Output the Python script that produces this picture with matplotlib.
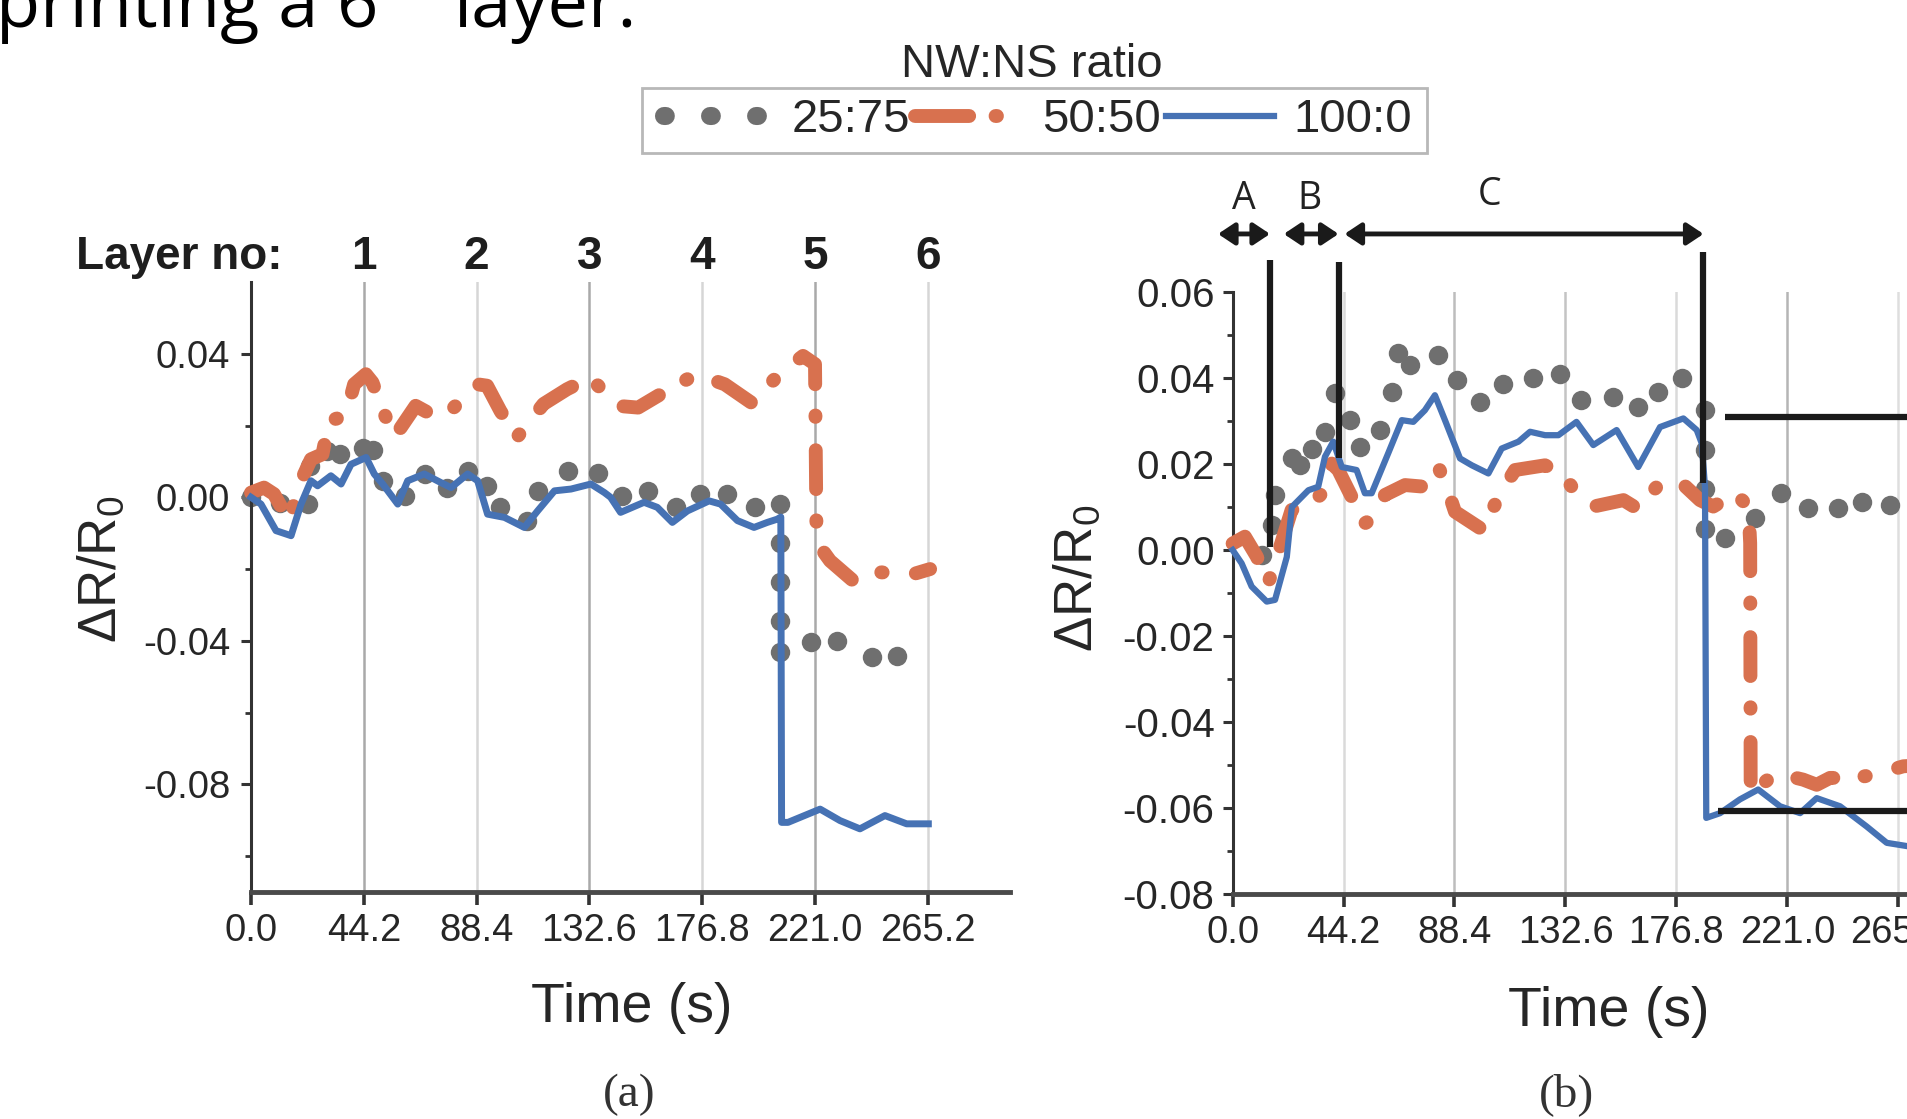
import matplotlib
matplotlib.use("Agg")
import matplotlib.pyplot as plt
from matplotlib.lines import Line2D
from matplotlib.patches import Rectangle

# ---------------- data ----------------
x_ticks = [0.0, 44.2, 88.4, 132.6, 176.8, 221.0, 265.2]
x_ticklabels = ["0.0", "44.2", "88.4", "132.6", "176.8", "221.0", "265.2"]
layer_numbers = ["1", "2", "3", "4", "5", "6"]
series_labels = ["25:75", "50:50", "100:0"]

# panel (a)
a_2575_t = [0.0, 11.4, 22.5, 23.1, 29.7, 34.9, 44.0, 47.9, 51.9, 60.3, 68.2, 76.7, 85.2,
            92.4, 97.6, 108.0, 112.6, 124.3, 135.8, 145.2, 155.7, 166.5, 175.9, 186.4,
            197.5, 207.3, 207.3, 207.3, 207.3, 207.3, 219.6, 229.5, 243.2, 253.0]
a_2575_y = [0.0000, -0.0015, -0.0019, 0.0088, 0.0128, 0.0120, 0.0136, 0.0132, 0.0046,
            0.0004, 0.0065, 0.0027, 0.0074, 0.0032, -0.0028, -0.0065, 0.0018, 0.0074,
            0.0069, 0.0004, 0.0018, -0.0028, 0.0009, 0.0009, -0.0028, -0.0019, -0.0126,
            -0.0237, -0.0344, -0.0432, -0.0404, -0.0400, -0.0446, -0.0441]

a_5050_t = [0.0, 5.1, 9.0, 14.9, 19.6, 23.5, 28.0, 30.6, 37.1, 40.4, 45.0, 47.6, 51.5,
            56.1, 64.5, 71.7, 78.2, 88.6, 92.5, 97.7, 104.2, 114.6, 123.8, 133.0, 143.3,
            151.7, 162.8, 174.5, 185.6, 196.0, 207.8, 216.3, 221.0, 221.6, 226.9, 236.0,
            246.5, 259.5, 266.1]
a_5050_y = [0.0013, 0.0027, 0.0009, -0.0065, 0.0046, 0.0106, 0.0120, 0.0213, 0.0227,
            0.0315, 0.0343, 0.0320, 0.0246, 0.0167, 0.0255, 0.0227, 0.0241, 0.0315,
            0.0311, 0.0241, 0.0167, 0.0260, 0.0301, 0.0334, 0.0255, 0.0250, 0.0297,
            0.0343, 0.0315, 0.0264, 0.0348, 0.0394, 0.0371, -0.0125, -0.0177, -0.0233,
            -0.0209, -0.0214, -0.0200]

a_1000_t = [0.0, 3.9, 9.8, 15.7, 19.6, 23.5, 26.1, 31.3, 35.3, 39.2, 45.1, 48.3, 51.6,
            57.5, 61.4, 67.9, 74.4, 78.4, 84.9, 88.8, 92.7, 99.3, 107.1, 112.3, 118.9,
            125.4, 133.2, 138.5, 140.9, 144.8, 154.0, 159.2, 165.1, 171.0, 179.5, 184.0,
            190.6, 197.1, 202.3, 206.2, 207.6, 207.9, 210.4, 223.0, 230.8, 238.6, 248.4,
            256.9, 265.4]
a_1000_y = [0.0000, -0.0019, -0.0093, -0.0107, -0.0019, 0.0046, 0.0032, 0.0060, 0.0037,
            0.0092, 0.0111, 0.0065, 0.0037, -0.0019, 0.0046, 0.0065, 0.0041, 0.0027,
            0.0065, 0.0046, -0.0047, -0.0056, -0.0084, -0.0038, 0.0018, 0.0023, 0.0037,
            0.0013, 0.0000, -0.0042, -0.0014, -0.0028, -0.0070, -0.0038, -0.0010,
            -0.0019, -0.0065, -0.0084, -0.0070, -0.0061, -0.0055, -0.0906, -0.0906,
            -0.0869, -0.0901, -0.0924, -0.0887, -0.0910, -0.0910]

# panel (b)
b_2575_t = [11.6, 15.6, 16.9, 23.5, 26.9, 31.5, 36.8, 40.8, 46.8, 50.8, 58.7, 63.4, 66.0,
            70.7, 82.0, 89.3, 98.6, 107.9, 119.8, 130.4, 138.7, 151.6, 161.6, 169.6,
            178.9, 188.2, 188.2, 188.2, 188.2, 196.2, 208.1, 218.6, 229.3, 241.3, 250.6,
            261.9]
b_2575_y = [-0.0012, 0.0058, 0.0128, 0.0213, 0.0197, 0.0236, 0.0275, 0.0364, 0.0302,
            0.0240, 0.0279, 0.0368, 0.0457, 0.0430, 0.0453, 0.0395, 0.0344, 0.0387,
            0.0399, 0.0410, 0.0348, 0.0356, 0.0333, 0.0368, 0.0399, 0.0325, 0.0232,
            0.0143, 0.0050, 0.0027, 0.0074, 0.0132, 0.0097, 0.0097, 0.0112, 0.0105]

b_5050_t = [0.0, 4.9, 9.6, 14.2, 16.9, 20.2, 23.5, 31.5, 36.8, 39.5, 42.1, 46.1, 52.7,
            56.1, 60.7, 68.7, 76.7, 82.0, 85.3, 88.6, 99.9, 105.9, 112.5, 124.5, 132.4,
            135.1, 143.7, 155.7, 161.0, 169.0, 177.6, 186.2, 191.5, 200.2, 205.5, 206.2,
            206.4, 216.6, 227.3, 232.7, 238.0, 248.6, 257.9, 267.2, 276.0]
b_5050_y = [0.0015, 0.0031, -0.0015, -0.0077, -0.0031, 0.0031, 0.0093, 0.0108, 0.0139,
            0.0201, 0.0186, 0.0139, 0.0062, 0.0074, 0.0128, 0.0151, 0.0147, 0.0193,
            0.0147, 0.0089, 0.0046, 0.0124, 0.0186, 0.0197, 0.0170, 0.0147, 0.0101,
            0.0116, 0.0097, 0.0147, 0.0163, 0.0116, 0.0101, 0.0132, 0.0101, 0.0016,
            -0.0565, -0.0519, -0.0534, -0.0546, -0.0530, -0.0530, -0.0519, -0.0503,
            -0.0500]

b_1000_t = [0.0, 3.6, 7.6, 13.6, 16.9, 21.6, 23.6, 30.2, 34.1, 36.8, 40.1, 43.5, 49.4,
            52.7, 55.4, 62.0, 67.4, 72.0, 76.6, 80.6, 84.6, 90.6, 95.3, 101.9, 107.2,
            113.9, 118.5, 124.5, 129.8, 137.0, 143.7, 153.0, 161.6, 170.3, 179.6, 184.9,
            186.9, 188.2, 188.7, 194.2, 202.1, 209.4, 218.1, 226.1, 232.7, 242.0, 252.6,
            260.6, 269.1, 276.0]
b_1000_y = [0.0000, -0.0031, -0.0085, -0.0120, -0.0116, -0.0016, 0.0100, 0.0139, 0.0147,
            0.0217, 0.0252, 0.0193, 0.0186, 0.0132, 0.0132, 0.0225, 0.0302, 0.0298,
            0.0325, 0.0360, 0.0302, 0.0213, 0.0197, 0.0178, 0.0236, 0.0252, 0.0275,
            0.0267, 0.0267, 0.0298, 0.0244, 0.0279, 0.0193, 0.0286, 0.0306, 0.0279,
            0.0248, 0.0147, -0.0623, -0.0612, -0.0580, -0.0557, -0.0596, -0.0612,
            -0.0577, -0.0596, -0.0643, -0.0681, -0.0689, -0.0690]

a_yticks = [-0.08, -0.04, 0.00, 0.04]
a_yminor = [-0.10, -0.06, -0.02, 0.02]
b_yticks = [-0.08, -0.06, -0.04, -0.02, 0.00, 0.02, 0.04, 0.06]
b_yminor = [-0.07, -0.05, -0.03, -0.01, 0.01, 0.03, 0.05]

# stage annotations in panel (b)
stage_labels = ["A", "B", "C"]
stage_label_t = [4.4, 30.6, 102.3]
stage_label_y = [0.0817, 0.0817, 0.0825]
stage_span_start = [-5.8, 20.4, 44.6]
stage_span_end = [14.9, 42.2, 187.6]
stage_bound_t = [15.0, 42.2, 187.6]
stage_bound_top = [0.0674, 0.0669, 0.0692]
stage_bound_bottom = [0.0008, 0.0213, 0.0155]
level_line_start = [196.0, 193.4]
level_line_y = [0.031, -0.0608]

# ---------------- style ----------------
plt.rcParams['font.family'] = ['Liberation Sans', 'DejaVu Sans']
plt.rcParams['axes.unicode_minus'] = False
plt.rcParams['mathtext.fontset'] = 'custom'
plt.rcParams['mathtext.rm'] = 'Liberation Sans'
plt.rcParams['mathtext.it'] = 'Liberation Sans:italic'
plt.rcParams['mathtext.bf'] = 'Liberation Sans:bold'

GRAY = '#6f6f6f'
ORANGE = '#d8714f'
BLUE = '#4672b4'
TXT = '#262626'
ORANGE_LW = 10.0
ORANGE_DASH = (0, (2.8, 2.25, 0.1, 2.4))

W, H = 1908, 1119
fig = plt.figure(figsize=(W / 100, H / 100), dpi=100)
fig.patch.set_facecolor('white')

XMAX = 297.4
ax_a = fig.add_axes([251 / W, 1 - 892 / H, 759 / W, 610 / H])
ax_b = fig.add_axes([1232.6 / W, 1 - 894 / H, 746.5 / W, 602 / H])


def style_axes(ax, ylim, yticks, yminor, ylabsize, grid_colors, ypad):
    ax.set_xlim(0, XMAX)
    ax.set_ylim(*ylim)
    for s in ('top', 'right'):
        ax.spines[s].set_visible(False)
    ax.spines['left'].set_linewidth(2.2)
    ax.spines['left'].set_color('#333333')
    ax.spines['bottom'].set_linewidth(3.5)
    ax.spines['bottom'].set_color('#4a4a4a')
    ax.set_xticks(x_ticks)
    ax.set_xticklabels(x_ticklabels)
    ax.set_yticks(yticks)
    ax.set_yticklabels([f"{v:.2f}" for v in yticks])
    ax.set_yticks(yminor, minor=True)
    ax.tick_params(axis='x', which='major', direction='out', length=9, width=2.6,
                   color='#333333', labelsize=27.5, labelcolor=TXT, pad=6)
    ax.tick_params(axis='y', which='major', direction='out', length=7, width=2.2,
                   color='#333333', labelsize=ylabsize, labelcolor=TXT, pad=ypad)
    ax.tick_params(axis='y', which='minor', direction='out', length=4.5, width=2.0,
                   color='#333333')
    for t, c in zip(x_ticks[1:], grid_colors):
        ax.axvline(t, color=c, lw=1.8, zorder=0.5)
    ax.set_facecolor('none')


style_axes(ax_a, (-0.110, 0.060), a_yticks, a_yminor, 27.5,
           ['#a9a9a9', '#d6d6d6', '#a9a9a9', '#d6d6d6', '#a9a9a9', '#d6d6d6'], 8)
style_axes(ax_b, (-0.080, 0.060), b_yticks, b_yminor, 29,
           ['#dadada', '#bdbdbd', '#c4c4c4', '#dadada', '#b5b5b5', '#dedede'], 6)

# data series
for ax, (g_t, g_y), (o_t, o_y), (b_t, b_y), blw in (
        (ax_a, (a_2575_t, a_2575_y), (a_5050_t, a_5050_y), (a_1000_t, a_1000_y), 5.0),
        (ax_b, (b_2575_t, b_2575_y), (b_5050_t, b_5050_y), (b_1000_t, b_1000_y), 4.5)):
    ax.plot(g_t, g_y, ls='none', marker='o', ms=14, color=GRAY, mec='none', zorder=2,
            clip_on=False)
    ax.plot(o_t, o_y, color=ORANGE, lw=ORANGE_LW, linestyle=ORANGE_DASH,
            dash_capstyle='round', solid_capstyle='round', dash_joinstyle='round',
            zorder=3, clip_on=False)
    ax.plot(b_t, b_y, color=BLUE, lw=blw, solid_joinstyle='round', zorder=4, clip_on=False)

# axis labels
for ax, xl, yl in ((ax_a, (0.501, -0.213), (-0.1976, 0.5295)),
                   (ax_b, (0.504, -0.219), (-0.2084, 0.525))):
    ax.set_xlabel("Time (s)", fontsize=40, color=TXT)
    ax.xaxis.label.set_va('baseline')
    ax.xaxis.set_label_coords(*xl)
    ax.set_ylabel(r"$\mathrm{\Delta R/R_0}$", fontsize=38, color=TXT)
    ax.yaxis.label.set_va('center')
    ax.yaxis.label.set_ha('center')
    ax.yaxis.set_label_coords(*yl)

# layer numbers (panel a)
ax_a.text(12.3, 0.0637, "Layer no:", ha='right', va='baseline', fontsize=33,
          fontweight='bold', color='#1e1e1e', clip_on=False)
for t, s in zip(x_ticks[1:], layer_numbers):
    ax_a.text(t, 0.0637, s, ha='center', va='baseline', fontsize=33, fontweight='bold',
              color='#1e1e1e', clip_on=False)

# stage annotations (panel b)
INK = '#1a1a1a'
for lab, lt, ly in zip(stage_labels, stage_label_t, stage_label_y):
    ax_b.text(lt, ly, lab, ha='center', va='center', fontsize=27, family='Open Sans',
              color='#222222', clip_on=False)
for s0, s1 in zip(stage_span_start, stage_span_end):
    ax_b.annotate('', xy=(s1, 0.0735), xytext=(s0, 0.0735), annotation_clip=False,
                  arrowprops=dict(arrowstyle='<|-|>,head_length=0.45,head_width=0.3',
                                  lw=3.5, color=INK, shrinkA=0, shrinkB=0,
                                  mutation_scale=22))
for bt, b0, b1 in zip(stage_bound_t, stage_bound_top, stage_bound_bottom):
    ax_b.plot([bt, bt], [b0, b1], color=INK, lw=4.5, solid_capstyle='butt', zorder=6,
              clip_on=False)
for ls, ly in zip(level_line_start, level_line_y):
    ax_b.plot([ls, XMAX], [ly, ly], color=INK, lw=4.5, solid_capstyle='butt', zorder=6,
              clip_on=False)

# legend
handles = [
    Line2D([], [], color=GRAY, lw=13, linestyle=(0, (0.1, 2.45)), dash_capstyle='round'),
    Line2D([], [], color=ORANGE, lw=ORANGE_LW, linestyle=(0, (3.9, 1.9, 0.1, 5)),
           dash_capstyle='round'),
    Line2D([], [], color=BLUE, lw=4.5),
]
fig.legend(handles, series_labels, loc='center', bbox_to_anchor=(1038 / W, 1 - 120.5 / H),
           ncol=3, frameon=False, fontsize=34, handlelength=2.3, handletextpad=0.4,
           columnspacing=0.1, borderpad=0, labelcolor=TXT)
fig.add_artist(Rectangle((642 / W, 1 - 153 / H), 785 / W, 65 / H, transform=fig.transFigure,
                         fill=False, ec='#b8b8b8', lw=2))
fig.text(1032 / W, 1 - 76.7 / H, "NW:NS ratio", ha='center', va='baseline', fontsize=34,
         color=TXT)

# panel captions
fig.text(629 / W, 1 - 1095 / H, "(a)", ha='center', va='center', fontsize=34,
         family='Liberation Serif', color='#333333')
fig.text(1567 / W, 1 - 1095 / H, "(b)", ha='center', va='center', fontsize=34,
         family='Liberation Serif', color='#333333')

# slide text cut at the top
fig.text(-4 / W, 1 - 27 / H, "printing a 6", ha='left', va='baseline', fontsize=52,
         family='Open Sans', color='black')
fig.text(390 / W, 1 - 0.5 / H, "th", ha='left', va='baseline', fontsize=30,
         family='Open Sans', color='black')
fig.text(454 / W, 1 - 27 / H, "layer.", ha='left', va='baseline', fontsize=52,
         family='Open Sans', color='black')

fig.savefig("out.png", dpi=100, facecolor='white')
